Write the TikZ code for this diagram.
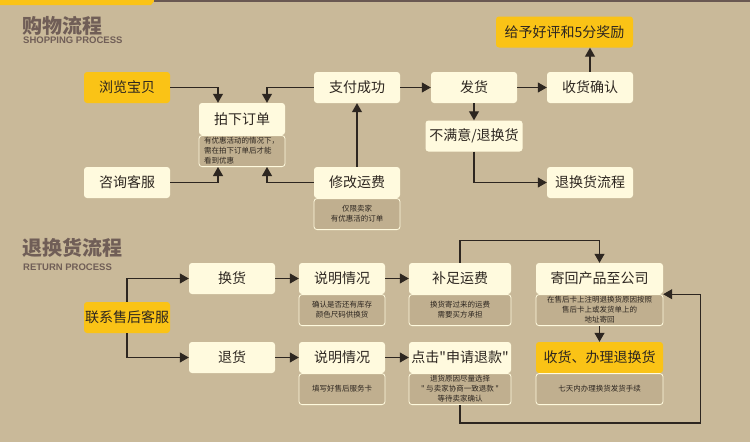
\documentclass[tikz,border=0pt]{standalone}
\usepackage{fontspec}
\setmainfont{Noto Sans CJK SC}
\newfontfamily\latinhead{Liberation Sans}
\usetikzlibrary{arrows.meta, positioning}
\definecolor{paper}{RGB}{201,185,153}
\definecolor{cream}{RGB}{255,250,222}
\definecolor{gold}{RGB}{250,195,22}
\definecolor{notefill}{RGB}{192,175,143}
\definecolor{ink}{RGB}{45,38,32}
\definecolor{headc}{RGB}{112,94,87}
\definecolor{rule}{RGB}{105,88,82}
\tikzset{
    % main step of a process, cream rounded box
    stepbox/.style={fill=cream, rounded corners=3pt, inner sep=0pt,
        minimum width=86pt, minimum height=31pt, text=ink,
        font=\fontsize{14}{16}\selectfont},
    % highlighted step (yellow)
    hotbox/.style={stepbox, fill=gold},
    % small remark hanging under a step
    notebox/.style={fill=notefill, draw=cream, line width=0.8pt,
        rounded corners=3pt, inner sep=0pt, minimum width=86pt,
        minimum height=31pt, align=center, text=ink,
        font=\fontsize{7.5}{10}\selectfont},
    % flow arrows
    flow/.style={draw=ink, line width=1.1pt, -{Triangle[length=9pt, width=10pt]}},
    % section titles
    headcn/.style={anchor=west, inner sep=0pt, text=headc,
        font=\fontsize{20}{22}\bfseries\selectfont},
    headen/.style={anchor=west, inner sep=0pt, text=headc,
        font=\latinhead\fontsize{9.5}{10}\bfseries\selectfont},
}
\newcommand{\qd}{\textquotedbl}

\begin{document}
\begin{tikzpicture}[x=1pt, y=-1pt]

    % ---- page ----
    \fill[paper] (0,0) rectangle (750,442);
    \useasboundingbox (0,0) rectangle (750,442);
    \fill[gold] (0,0) -- (155,0) -- (151,5) -- (0,5) -- cycle;
    \fill[rule] (154,0) rectangle (750,2);

    % ---- shopping process ----
    \node[headcn] (shopcn) at (22,26)   {购物流程};
    \node[headen] (shopen) at (23,40.5) {SHOPPING PROCESS};

    \node[hotbox]  (browse)  at (127,87.5)  {浏览宝贝};
    \node[stepbox] (consult) at (127,182.5) {咨询客服};

    \node[stepbox, minimum height=32pt] (order) at (242,119) {拍下订单};
    \node[notebox, below=0pt of order, align=left, text width=76pt,
          inner xsep=5pt] (orderNote)
        {有优惠活动的情况下，\\需在拍下订单后才能\\看到优惠};

    \node[stepbox] (pay)    at (357,87.5)  {支付成功};
    \node[stepbox] (modify) at (357,182.5) {修改运费};
    \node[notebox, below=0pt of modify] (modifyNote) {仅限卖家\\有优惠活的订单};

    \node[stepbox] (ship) at (474,87.5) {发货};
    \node[stepbox, minimum width=97pt] (unhappy) at (474,136) {不满意/退换货};
    \node[stepbox] (confirm) at (590,87.5) {收货确认};
    \node[hotbox, minimum width=137pt] (reward) at (564.5,32) {给予好评和5分奖励};
    \node[stepbox] (returnflow) at (590,182.5) {退换货流程};

    \draw[flow] (browse)  -| ([xshift=-24pt]order.north);
    \draw[flow] (pay)     -| ([xshift=25pt]order.north);
    \draw[flow] (consult) -| ([xshift=-24pt]orderNote.south);
    \draw[flow] (modify)  -| ([xshift=25pt]orderNote.south);
    \draw[flow] (modify) -- (pay);
    \draw[flow] (pay) -- (ship);
    \draw[flow] (ship) -- (unhappy);
    \draw[flow] (unhappy) |- (returnflow);
    \draw[flow] (ship) -- (confirm);
    \draw[flow] (confirm) -- (confirm |- reward.south);

    % ---- return process ----
    \node[headcn] (retcn) at (22,248) {退换货流程};
    \node[headen] (reten) at (23,267) {RETURN PROCESS};

    \node[hotbox] (contact) at (127,317.5) {联系售后客服};

    \node[stepbox] (swap)    at (232,278.5) {换货};
    \node[stepbox] (refund)  at (232,357.5) {退货};

    \node[stepbox] (explainA) at (342,278.5) {说明情况};
    \node[notebox, below=0pt of explainA] (explainANote)
        {确认是否还有库存\\颜色尺码供换货};
    \node[stepbox] (explainB) at (342,357.5) {说明情况};
    \node[notebox, below=0pt of explainB] (explainBNote) {填写好售后服务卡};

    \node[stepbox, minimum width=102pt] (topup) at (460,278.5) {补足运费};
    \node[notebox, minimum width=102pt, below=0pt of topup] (topupNote)
        {换货寄过来的运费\\需要买方承担};
    \node[stepbox, minimum width=102pt] (apply) at (460,357.5) {点击\qd 申请退款\qd};
    \node[notebox, minimum width=102pt, below=0pt of apply] (applyNote)
        {退货原因尽量选择\\\qd\ 与卖家协商一致退款 \qd\\等待卖家确认};

    \node[stepbox, minimum width=127pt] (sendback) at (599.5,278.5) {寄回产品至公司};
    \node[notebox, minimum width=127pt, below=0pt of sendback] (sendbackNote)
        {在售后卡上注明退换货原因按照\\售后卡上或发货单上的\\地址寄回};
    \node[hotbox, minimum width=127pt] (done) at (599.5,357.5) {收货、办理退换货};
    \node[notebox, minimum width=127pt, below=0pt of done] (doneNote)
        {七天内办理换货发货手续};

    \draw[flow] (contact) |- (swap);
    \draw[flow] (contact) |- (refund);
    \draw[flow] (swap) -- (explainA);
    \draw[flow] (explainA) -- (topup);
    \draw[flow] (refund) -- (explainB);
    \draw[flow] (explainB) -- (apply);
    \draw[flow] (topup.north) -- ++(0,-22) -| (sendback.north);
    \draw[flow] (applyNote.south) -- ++(0,18)
        -| ([xshift=37pt]sendback.south east) -- (sendback.south east);
    \draw[flow] (sendbackNote) -- (done);

\end{tikzpicture}
\end{document}
